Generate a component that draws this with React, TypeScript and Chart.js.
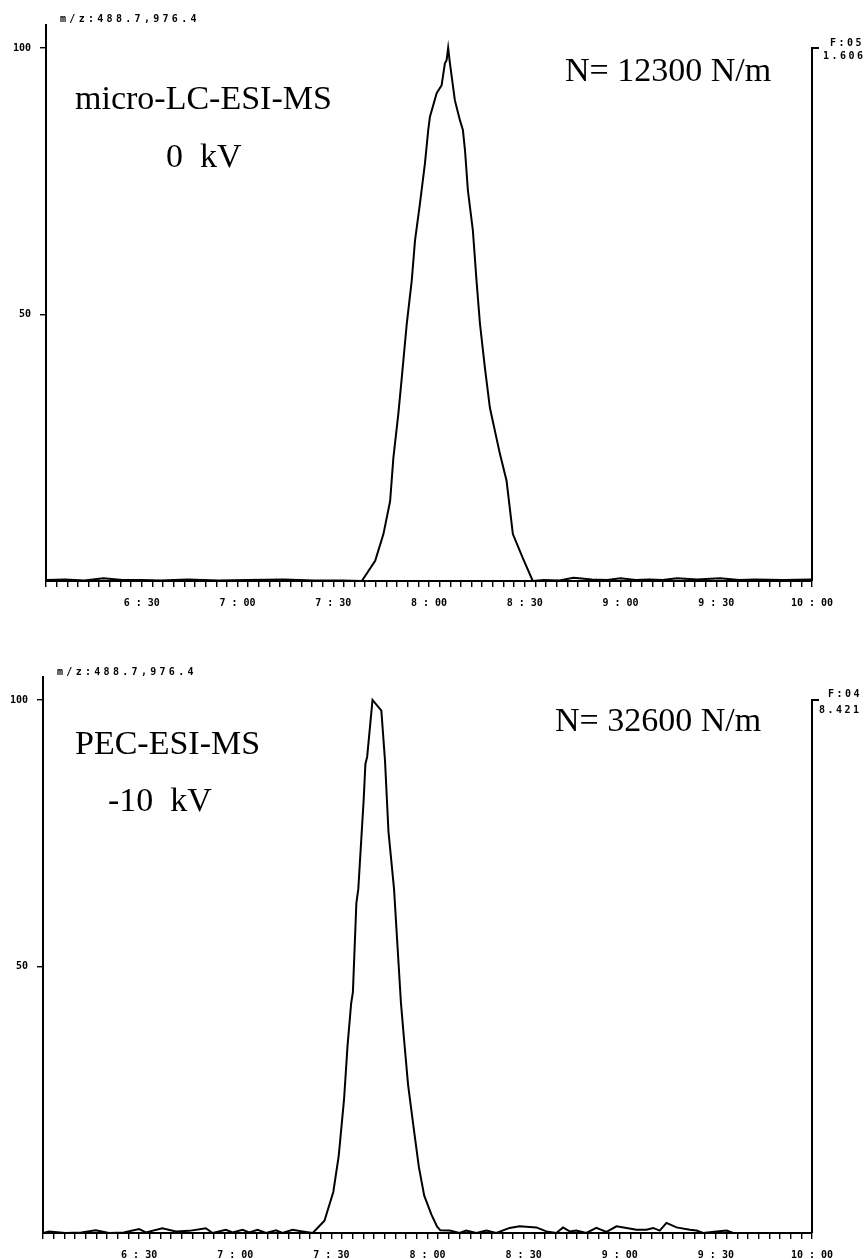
import React, { useEffect, useRef } from 'react';
import { Chart, registerables } from 'chart.js';

Chart.register(...registerables);

// ---------- data ----------
const X_MIN = 6;
const X_MAX = 10;
const MINOR_TICKS_PER_MIN = 18;
const X_TICK_LABELS = ['6:30', '7:00', '7:30', '8:00', '8:30', '9:00', '9:30', '10:00'];
const Y_TICKS = [50, 100];
const Y_MAX = 104.3;

const TOP_TIME = [
  6.0, 6.1, 6.2, 6.3, 6.4, 6.5, 6.6, 6.74, 6.9, 7.05, 7.24, 7.4, 7.55,
  7.649, 7.719, 7.762, 7.797, 7.814, 7.84, 7.858, 7.884, 7.91, 7.927, 7.953, 7.979, 7.996, 8.005, 8.04, 8.066, 8.083, 8.092, 8.1,
  8.109, 8.135, 8.161, 8.177, 8.188, 8.203, 8.229, 8.248, 8.266, 8.292, 8.318, 8.37, 8.405, 8.438, 8.49, 8.542,
  8.6, 8.68, 8.755, 8.85, 8.93, 9.0, 9.08, 9.15, 9.22, 9.295, 9.4, 9.52, 9.62, 9.7, 9.85, 10.0,
];
const TOP_INTENSITY = [
  0.2, 0.3, 0.1, 0.5, 0.2, 0.2, 0.1, 0.3, 0.1, 0.2, 0.3, 0.1, 0.1,
  0, 3.8, 8.8, 15.0, 23.1, 31.4, 38.2, 48.3, 56.4, 63.9, 70.9, 78.4, 84.6, 87.1, 91.5, 93.0, 97.1, 97.7, 100,
  97.2, 90.2, 86.5, 84.6, 80.8, 73.3, 65.8, 56.4, 48.3, 40.0, 32.5, 23.9, 18.8, 8.8, 4.3, 0,
  0.2, 0.1, 0.6, 0.3, 0.2, 0.5, 0.2, 0.3, 0.2, 0.5, 0.3, 0.5, 0.2, 0.3, 0.2, 0.3,
];

const BOTTOM_TIME = [
  6.0, 6.031, 6.118, 6.2, 6.274, 6.344, 6.42, 6.5, 6.535, 6.621, 6.691, 6.76, 6.847, 6.882, 6.951, 6.986, 7.038, 7.073, 7.116, 7.16, 7.212, 7.246, 7.298, 7.35, 7.403,
  7.464, 7.51, 7.538, 7.566, 7.584, 7.603, 7.612, 7.63, 7.64, 7.668, 7.677, 7.686, 7.714,
  7.76, 7.779, 7.797, 7.826, 7.844, 7.862, 7.881, 7.899, 7.928, 7.955, 7.983, 8.02, 8.05, 8.067,
  8.115, 8.167, 8.201, 8.254, 8.306, 8.358, 8.427, 8.479, 8.566, 8.618, 8.67, 8.705, 8.74, 8.774, 8.826, 8.878, 8.931, 8.983,
  9.035, 9.087, 9.139, 9.174, 9.208, 9.243, 9.295, 9.365, 9.399, 9.434, 9.504, 9.556, 9.59, 10.0,
];
const BOTTOM_INTENSITY = [
  0, 0.3, 0, 0.1, 0.5, 0, 0.1, 0.75, 0.12, 0.9, 0.3, 0.4, 0.9, 0, 0.6, 0.1, 0.6, 0.1, 0.6, 0, 0.5, 0, 0.6, 0.3, 0,
  2.3, 7.7, 14.4, 25.1, 35.1, 43.1, 45.2, 61.9, 64.5, 81.3, 88, 89.3, 100,
  98, 88.6, 75.3, 64.5, 53.8, 43.1, 35.1, 27.8, 19.7, 12.4, 7, 3.5, 1.2, 0.5,
  0.45, 0, 0.45, 0, 0.45, 0, 0.95, 1.25, 1.05, 0.3, 0, 1.05, 0.3, 0.45, 0, 0.95, 0.2, 1.25,
  0.95, 0.6, 0.6, 0.95, 0.45, 1.9, 1.05, 0.6, 0.45, 0, 0.3, 0.45, 0, 0,
];

const MZ_LABEL = 'm/z:488.7,976.4';

// ---------- panels ----------
type TextItem = { text: string; x: number; y: number };
type Panel = {
  top: number;
  height: number;
  padTop: number;
  xAxisHeight: number;
  axisLeft: number;
  axisRight: number;
  times: number[];
  values: number[];
  header: TextItem;
  small: TextItem[];
  big: TextItem[];
};

const W = 868;

const PANELS: Panel[] = [
  {
    top: 0,
    height: 630,
    padTop: 25,
    xAxisHeight: 49,
    axisLeft: 46,
    axisRight: 812,
    times: TOP_TIME,
    values: TOP_INTENSITY,
    header: { text: MZ_LABEL, x: 60, y: 19 },
    small: [
      { text: 'F:05', x: 830, y: 43 },
      { text: '1.606', x: 823, y: 56 },
    ],
    big: [
      { text: 'micro-LC-ESI-MS', x: 75, y: 100 },
      { text: '0  kV', x: 166, y: 158 },
      { text: 'N= 12300 N/m', x: 565, y: 72 },
    ],
  },
  {
    top: 630,
    height: 629,
    padTop: 47,
    xAxisHeight: 26,
    axisLeft: 43,
    axisRight: 812,
    times: BOTTOM_TIME,
    values: BOTTOM_INTENSITY,
    header: { text: MZ_LABEL, x: 57, y: 42 },
    small: [
      { text: 'F:04', x: 828, y: 64 },
      { text: '8.421', x: 819, y: 80 },
    ],
    big: [
      { text: 'PEC-ESI-MS', x: 75, y: 115 },
      { text: '-10  kV', x: 108, y: 172 },
      { text: 'N= 32600 N/m', x: 555, y: 92 },
    ],
  },
];

function fmtTime(v: number): string {
  const total = Math.round(v * 60);
  const m = Math.floor(total / 60);
  const s = total % 60;
  return `${m}:${String(s).padStart(2, '0')}`;
}

const MONO = '"DejaVu Sans Mono", monospace';
const SERIF = '"Liberation Serif", "Times New Roman", serif';

function PanelChart({ panel }: { panel: Panel }) {
  const ref = useRef<HTMLCanvasElement | null>(null);
  useEffect(() => {
    if (!ref.current) return;
    const decor = {
      id: 'decor',
      afterDraw(chart: any) {
        const ctx = chart.ctx as CanvasRenderingContext2D;
        const { right, bottom } = chart.chartArea;
        const y100 = chart.scales.y.getPixelForValue(100);
        ctx.save();
        ctx.strokeStyle = '#000';
        ctx.lineWidth = 2;
        ctx.beginPath();
        ctx.moveTo(right + 7, y100);
        ctx.lineTo(right, y100);
        ctx.lineTo(right, bottom);
        ctx.stroke();
        ctx.fillStyle = '#000';
        ctx.textAlign = 'left';
        ctx.textBaseline = 'middle';
        ctx.font = `bold 10px ${MONO}`;
        (ctx as any).letterSpacing = '3.3px';
        ctx.fillText(panel.header.text, panel.header.x, panel.header.y);
        (ctx as any).letterSpacing = '2.5px';
        panel.small.forEach((t) => ctx.fillText(t.text, t.x, t.y));
        (ctx as any).letterSpacing = '0px';
        ctx.font = `34px ${SERIF}`;
        panel.big.forEach((t) => ctx.fillText(t.text, t.x, t.y));
        ctx.restore();
      },
    };

    const chart = new Chart(ref.current, {
      type: 'line',
      data: {
        datasets: [
          {
            data: panel.times.map((t, i) => ({ x: t, y: panel.values[i] })),
            borderColor: '#000',
            borderWidth: 2,
            pointRadius: 0,
            tension: 0,
            fill: false,
          },
        ],
      },
      options: {
        responsive: false,
        animation: false,
        events: [],
        layout: { padding: { top: panel.padTop, right: W - panel.axisRight, left: 0, bottom: 0 } },
        plugins: { legend: { display: false }, tooltip: { enabled: false } },
        scales: {
          x: {
            type: 'linear',
            min: X_MIN,
            max: X_MAX,
            afterBuildTicks: (scale: any) => {
              const n = (X_MAX - X_MIN) * MINOR_TICKS_PER_MIN;
              const ticks = [];
              for (let i = 0; i <= n; i++) ticks.push({ value: X_MIN + i / MINOR_TICKS_PER_MIN });
              scale.ticks = ticks;
            },
            afterFit: (scale: any) => {
              scale.height = panel.xAxisHeight;
            },
            ticks: {
              autoSkip: false,
              maxRotation: 0,
              minRotation: 0,
              padding: 10,
              color: '#000',
              font: { family: MONO, size: 10, weight: 'bold' },
              callback: (v: any) => {
                const s = fmtTime(Number(v));
                if (!X_TICK_LABELS.includes(s)) return '';
                return s.replace(':', ' : ');
              },
            },
            grid: { drawOnChartArea: false, drawTicks: true, tickLength: 6, color: '#000', lineWidth: 1.4 },
            border: { display: true, color: '#000', width: 2 },
          },
          y: {
            type: 'linear',
            min: 0,
            max: Y_MAX,
            afterBuildTicks: (scale: any) => {
              scale.ticks = Y_TICKS.map((v) => ({ value: v }));
            },
            afterFit: (scale: any) => {
              scale.width = panel.axisLeft;
            },
            ticks: {
              padding: 9,
              color: '#000',
              font: { family: MONO, size: 10, weight: 'bold' },
              callback: (v: any) => String(v),
            },
            grid: { drawOnChartArea: false, drawTicks: true, tickLength: 6, color: '#000', lineWidth: 1.4 },
            border: { display: true, color: '#000', width: 2 },
          },
        },
      },
      plugins: [decor],
    } as any);
    return () => chart.destroy();
  }, [panel]);
  return (
    <canvas
      ref={ref}
      width={W}
      height={panel.height}
      style={{ position: 'absolute', left: 0, top: panel.top, display: 'block' }}
    />
  );
}

export default function App() {
  return (
    <div
      style={{
        position: 'absolute',
        left: 0,
        top: 0,
        width: W,
        height: 1259,
        background: '#fff',
        overflow: 'hidden',
      }}
    >
      {PANELS.map((p, i) => (
        <PanelChart key={i} panel={p} />
      ))}
    </div>
  );
}
